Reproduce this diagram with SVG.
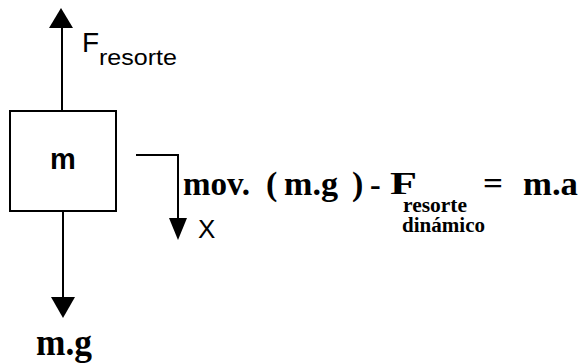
<svg xmlns="http://www.w3.org/2000/svg" width="587" height="363" viewBox="0 0 587 363">
<style>
.ln{stroke:#000;stroke-width:2;fill:none}
.hd{fill:#000;stroke:none}
.sans{font-family:"Liberation Sans",Arial,sans-serif;fill:#000}
.ser{font-family:"Liberation Serif","Times New Roman",serif;font-weight:bold;fill:#000}
</style>
<rect width="587" height="363" fill="#fff"/>
<g id="mass">
<rect x="10" y="111" width="106" height="100" class="ln"/>
<text x="63" y="169" class="sans" font-size="29" font-weight="bold" text-anchor="middle">m</text>
</g>
<g id="connectors">
<line x1="62" y1="111" x2="62" y2="26" class="ln"/>
<path d="M61,8 L73,28 L49,28 Z" class="hd"/>
<line x1="63" y1="211" x2="63" y2="299" class="ln"/>
<path d="M51,297 L75,297 L63,318 Z" class="hd"/>
<polyline points="136,155 178,155 178,220" class="ln"/>
<path d="M169,218 L187,218 L178,240 Z" class="hd"/>
</g>
<g id="label-fresorte">
<text x="82" y="52" class="sans" font-size="28">F</text>
<text x="99" y="65" class="sans" font-size="22" textLength="78" lengthAdjust="spacingAndGlyphs">resorte</text>
</g>
<g id="label-x">
<text x="198" y="238" class="sans" font-size="26">X</text>
</g>
<g id="label-mg">
<text x="36" y="355" class="ser" font-size="37" textLength="56" lengthAdjust="spacingAndGlyphs">m.g</text>
</g>
<g id="equation">
<text x="183" y="195" class="ser" font-size="34" textLength="67" lengthAdjust="spacingAndGlyphs">mov.</text>
<text x="266" y="195" class="ser" font-size="34" font-weight="normal">(</text>
<text x="284" y="195" class="ser" font-size="34" textLength="54" lengthAdjust="spacingAndGlyphs">m.g</text>
<text x="352" y="195" class="ser" font-size="34" font-weight="normal">)</text>
<text x="370" y="195" class="ser" font-size="32" font-weight="normal">-</text>
<text x="390" y="194" class="ser" font-size="31" textLength="27" lengthAdjust="spacingAndGlyphs">F</text>
<text x="403" y="212" class="ser" font-size="20" textLength="64" lengthAdjust="spacingAndGlyphs">resorte</text>
<text x="402" y="232" class="ser" font-size="20" textLength="83" lengthAdjust="spacingAndGlyphs">dinámico</text>
<text x="483" y="194" class="ser" font-size="32" font-weight="normal" textLength="20" lengthAdjust="spacingAndGlyphs">=</text>
<text x="523" y="195" class="ser" font-size="34" textLength="55" lengthAdjust="spacingAndGlyphs">m.a</text>
</g>
</svg>
